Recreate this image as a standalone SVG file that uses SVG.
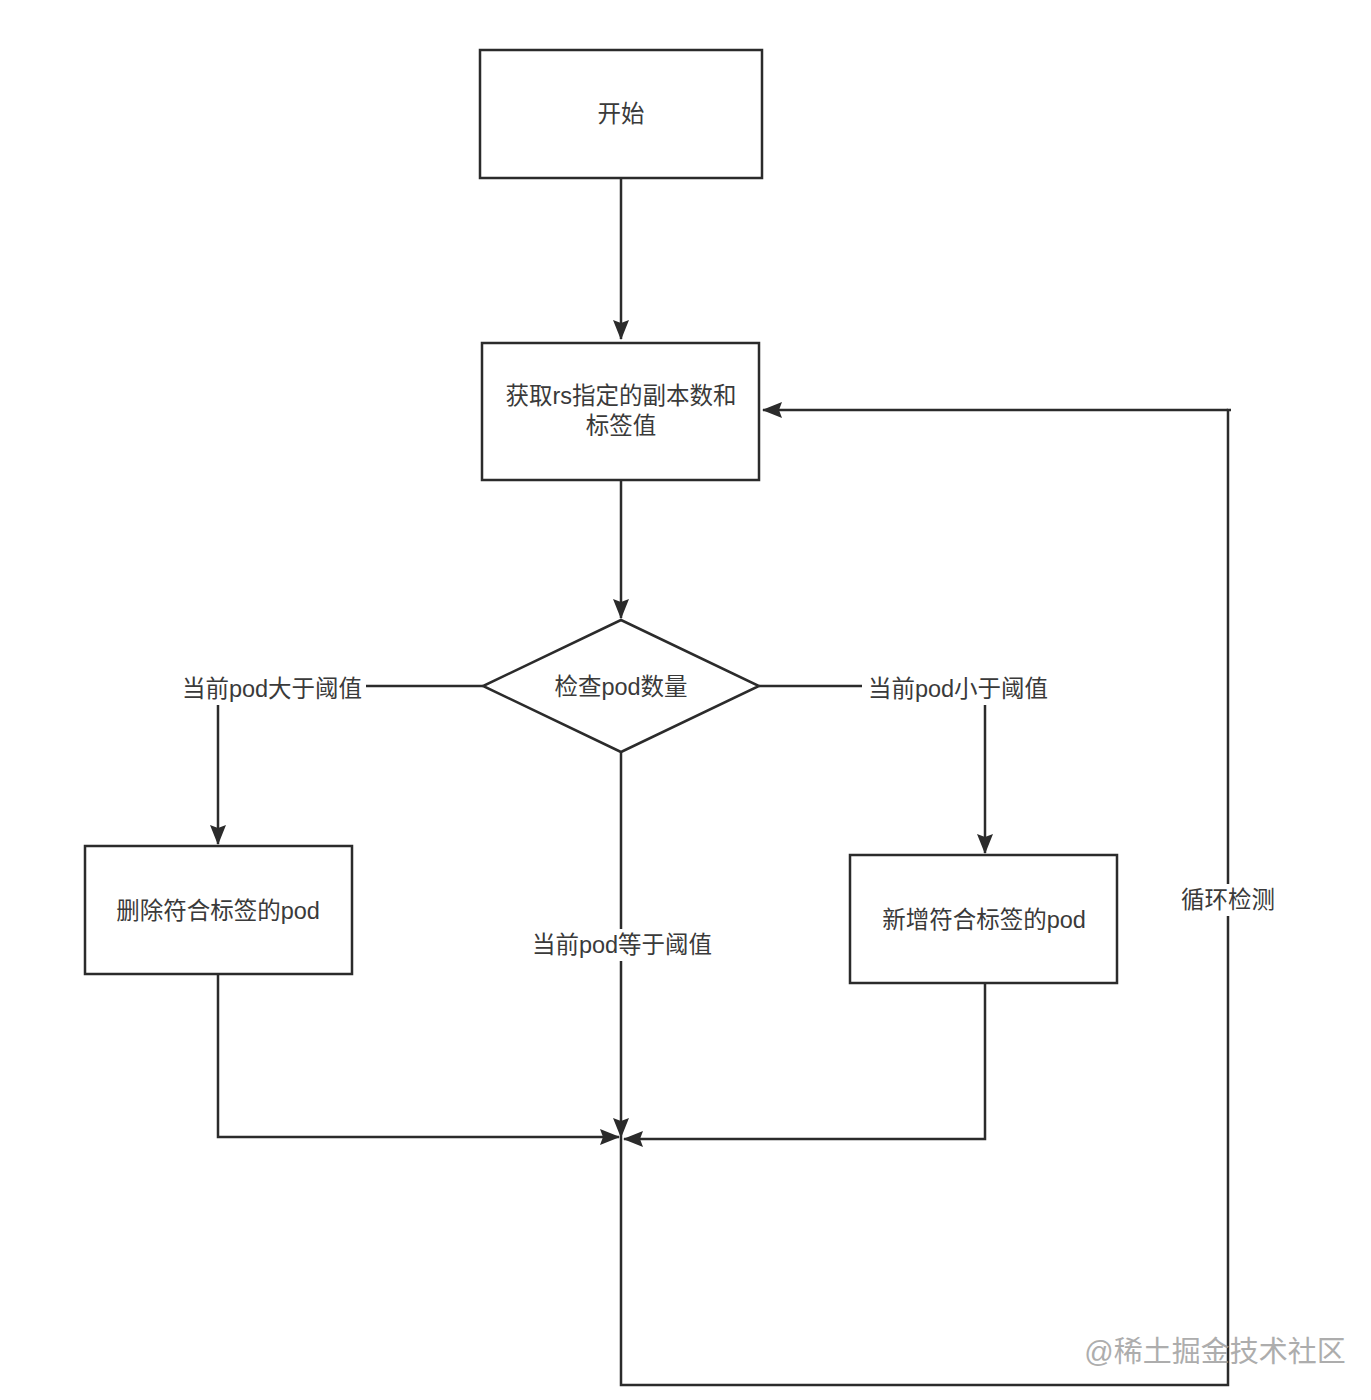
<svg xmlns="http://www.w3.org/2000/svg" width="1371" height="1400" viewBox="0 0 1371 1400">
<defs>
<marker id="arrb" viewBox="0 0 20 16" markerWidth="20" markerHeight="16" refX="19" refY="8" orient="auto" markerUnits="userSpaceOnUse">
<path d="M0,0 L20,8 L0,16 L3,8 Z" fill="#2b2b2b"/>
</marker>
</defs>
<style>
.box{fill:#fff;stroke:#2b2b2b;stroke-width:2.5}
.ln{fill:none;stroke:#2b2b2b;stroke-width:2.5}
.t{font-family:"Liberation Sans","Noto Sans CJK SC",sans-serif;font-size:23.5px;fill:#3a3a3a;text-anchor:middle;dominant-baseline:central}
.lbl{fill:#fff}
.wm{font-family:"Liberation Sans","Noto Sans CJK SC",sans-serif;font-size:29px;fill:#999;opacity:0.8;text-anchor:middle;dominant-baseline:central}
</style>
<rect width="1371" height="1400" fill="#fff"/>
<g id="connectors">
<path class="ln" d="M621,178 L621,339" marker-end="url(#arrb)"/>
<path class="ln" d="M621,480 L621,618" marker-end="url(#arrb)"/>
<path class="ln" d="M483,686 L366,686"/>
<path class="ln" d="M218,705 L218,844" marker-end="url(#arrb)"/>
<path class="ln" d="M759,686 L862,686"/>
<path class="ln" d="M985,705 L985,853" marker-end="url(#arrb)"/>
<path class="ln" d="M621,752 L621,1137" marker-end="url(#arrb)"/>
<path class="ln" d="M218,974 L218,1137 L619,1137" marker-end="url(#arrb)"/>
<path class="ln" d="M985,983 L985,1139 L624,1139" marker-end="url(#arrb)"/>
<path class="ln" d="M621,1137 L621,1385 L1228,1385 L1228,410 L1231,410"/>
<path class="ln" d="M1228,410 L763,410" marker-end="url(#arrb)"/>
<g id="label-gt"><text class="t" x="272" y="689">当前pod大于阈值</text></g>
<g id="label-lt"><text class="t" x="958" y="689">当前pod小于阈值</text></g>
<g id="label-eq"><rect class="lbl" x="524" y="929" width="196" height="32"/><text class="t" x="622" y="945">当前pod等于阈值</text></g>
<g id="label-loop"><rect class="lbl" x="1176" y="884" width="104" height="32"/><text class="t" x="1228" y="900">循环检测</text></g>
</g>
<g id="start"><rect class="box" x="480" y="50" width="282" height="128"/><text class="t" x="621" y="114">开始</text></g>
<g id="fetch"><rect class="box" x="482" y="343" width="277" height="137"/><text class="t" x="621" y="396">获取rs指定的副本数和</text><text class="t" x="621" y="426">标签值</text></g>
<g id="check"><polygon class="box" points="621,620 759,686 621,752 483,686"/><text class="t" x="621" y="687">检查pod数量</text></g>
<g id="delete"><rect class="box" x="85" y="846" width="267" height="128"/><text class="t" x="218" y="911">删除符合标签的pod</text></g>
<g id="add"><rect class="box" x="850" y="855" width="267" height="128"/><text class="t" x="984" y="920">新增符合标签的pod</text></g>
<text class="wm" x="1215" y="1352">@稀土掘金技术社区</text>
</svg>
